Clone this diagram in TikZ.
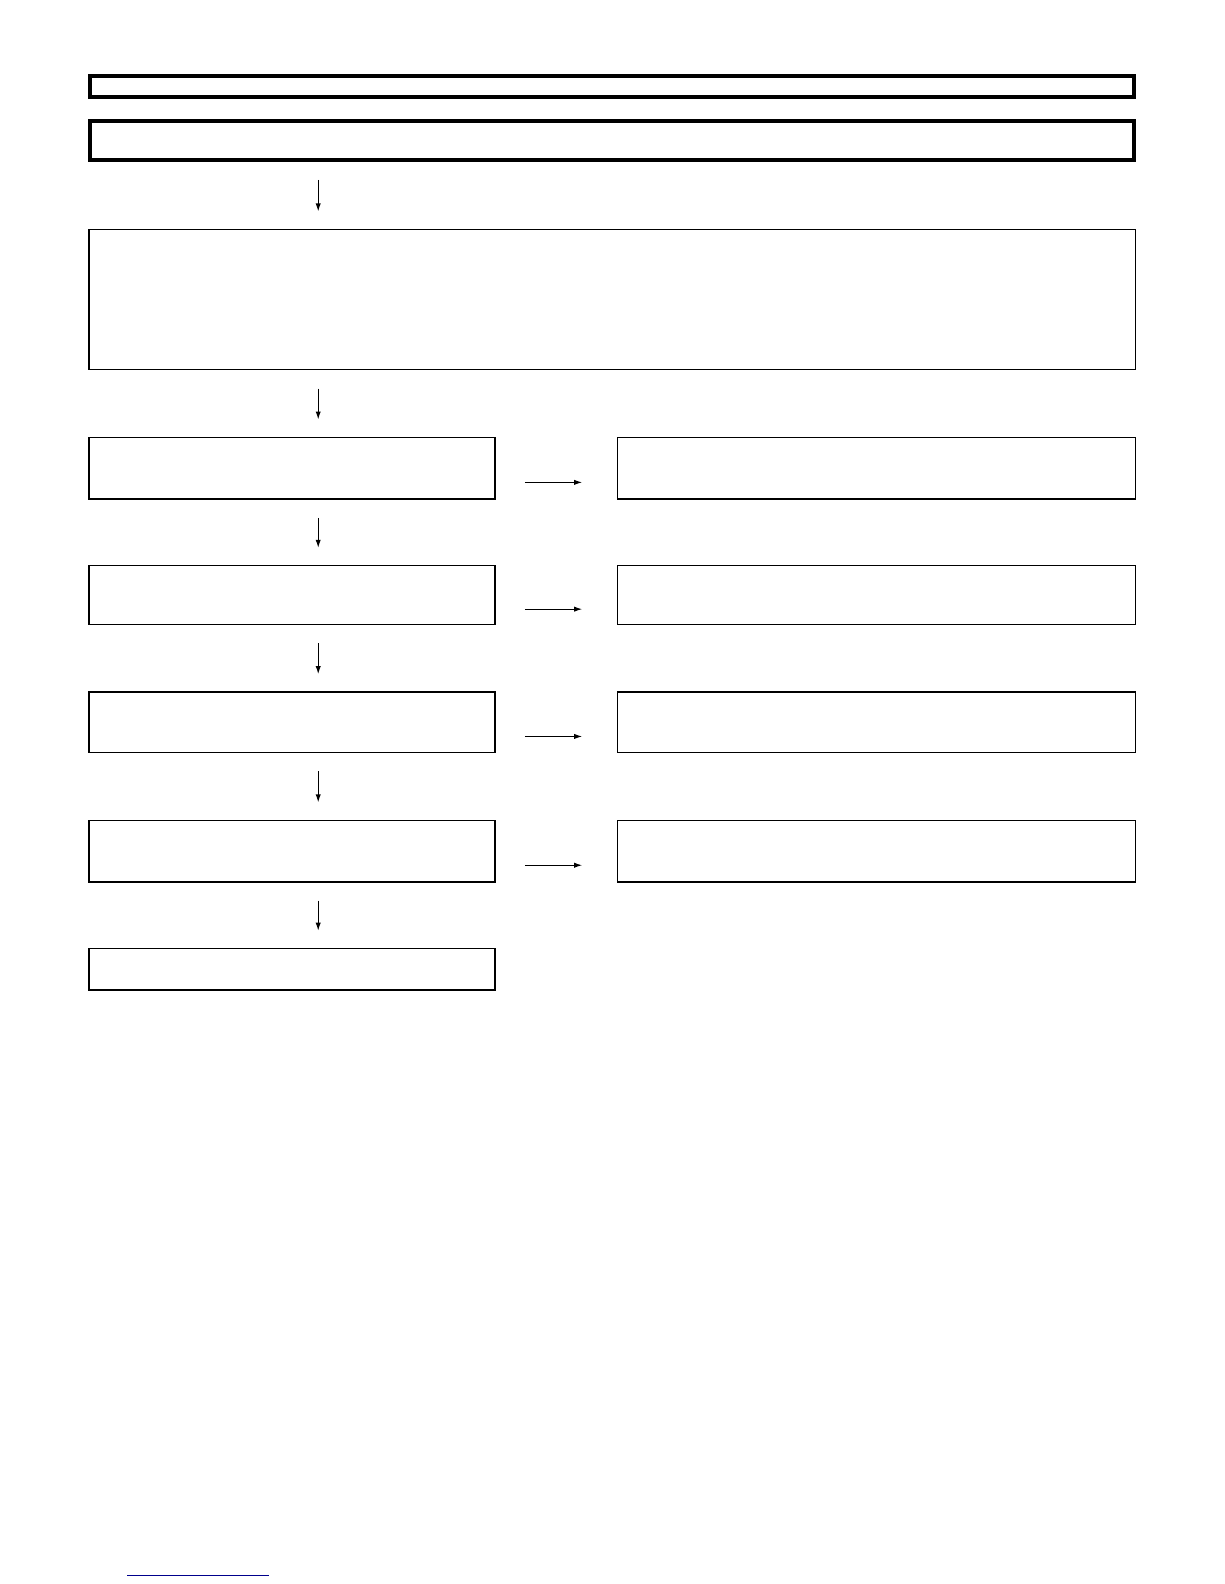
\documentclass[tikz,border=0pt]{standalone}
\usetikzlibrary{arrows.meta}

\tikzset{
  heavybox/.style={draw=black,line width=2pt,rectangle,inner sep=0pt},
  stepbox/.style={draw=black,line width=0.6pt,rectangle,inner sep=0pt},
  arr/.style={-{Latex[length=4pt,width=2.6pt]},line width=0.6pt},
}

\begin{document}
\begin{tikzpicture}[x=0.5pt,y=-0.5pt]

  \useasboundingbox (0,0) rectangle (1212,1568);

  % header bars
  \node[heavybox,minimum width=517pt,minimum height=10.5pt] (title) at (606,85.5) {};
  \node[heavybox,minimum width=517pt,minimum height=19pt] (hdr) at (606,139) {};

  % wide box
  \node[stepbox,minimum width=518pt,minimum height=69.5pt] (main) at (606,296.5) {};

  % column of the down arrows
  \coordinate (stem) at (315,0);

  % left and right boxes
  \foreach \n/\yc/\h in {1/463.5/30.5, 2/589/29, 3/715/30, 4/842.5/30.5} {
    \node[stepbox,minimum width=201pt,minimum height=\h pt] (l\n) at (289,\yc) {};
    \node[stepbox,minimum width=256.5pt,minimum height=\h pt] (r\n) at (867.5,\yc) {};
    \draw[arr,shorten <=14.5pt,shorten >=17pt] ([yshift=-7pt]l\n.east) -- ([yshift=-7pt]r\n.west);
  };

  % last box
  \node[stepbox,minimum width=201pt,minimum height=20.5pt] (l5) at (289,959.5) {};

  % down arrows
  \foreach \a/\b in {hdr/main, main/l1, l1/l2, l2/l3, l3/l4, l4/l5} {
    \draw[arr,shorten <=9pt,shorten >=8.5pt] (\a.south -| stem) -- (\b.north -| stem);
  };

  % link rule at the foot
  \draw[blue!55!black,line width=0.8pt] (126,1559.5) -- (266,1559.5);

\end{tikzpicture}
\end{document}
